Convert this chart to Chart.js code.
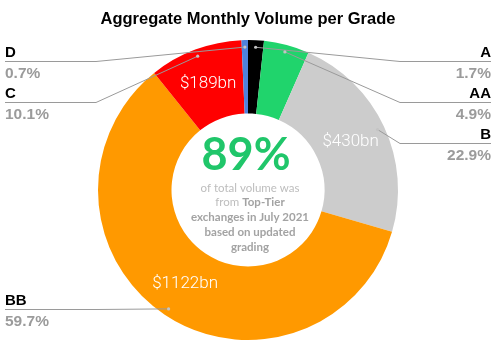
<!DOCTYPE html>
<html>
<head>
<meta charset="utf-8">
<style>
  html, body { margin: 0; padding: 0; background: #ffffff; }
  #wrap { position: relative; width: 500px; height: 351px; }
</style>
<script src="https://cdn.jsdelivr.net/npm/chart.js@4.4.1/dist/chart.umd.min.js"></script>
</head>
<body>
<div id="wrap"><canvas id="c" width="500" height="351"></canvas></div>
<script>
// ---- data ----
const grades = ['A', 'AA', 'B', 'BB', 'C', 'D'];
const volumesBn = [32, 92, 430, 1122, 189, 13];
const shareLabels = ['1.7%', '4.9%', '22.9%', '59.7%', '10.1%', '0.7%'];
const valueLabels = ['', '', '$430bn', '$1122bn', '$189bn', ''];
const labelSides = ['right', 'right', 'right', 'left', 'left', 'left'];
const centerHeadline = '89%';
const centerLines = [
  [['of total volume was', false]],
  [['from ', false], ['Top-Tier', true]],
  [['exchanges in July 2021', true]],
  [['based on updated', true]],
  [['grading', true]]
];
const titleText = 'Aggregate Monthly Volume per Grade';

// ---- styles ----
const sliceColors = ['#000000', '#20d46c', '#cccccc', '#ff9900', '#ff0000', '#4f82dc'];

const labelPlugin = {
  id: 'sideLabels',
  afterDatasetsDraw(chart) {
    const ctx = chart.ctx;
    const meta = chart.getDatasetMeta(0);
    const pts = meta.data.map((arc, i) => {
      const mid = (arc.startAngle + arc.endAngle) / 2;
      const r = arc.outerRadius * 0.953;
      return { i, x: arc.x + Math.cos(mid) * r, y: arc.y + Math.sin(mid) * r, arc };
    });
    // value labels inside slices
    ctx.save();
    ctx.fillStyle = '#ffffff';
    ctx.font = '300 17px Roboto';
    ctx.textAlign = 'center';
    ctx.textBaseline = 'middle';
    meta.data.forEach((arc, i) => {
      if (!valueLabels[i]) return;
      const p = arc.tooltipPosition();
      ctx.fillText(valueLabels[i], p.x, p.y);
    });
    ctx.restore();

    // side labels with leader lines
    const minY = 60.5, gap = 40.5;
    ['left', 'right'].forEach(side => {
      const list = pts.filter(p => labelSides[p.i] === side).sort((a, b) => a.y - b.y);
      let prev = -Infinity;
      list.forEach(p => {
        const ly = Math.round(Math.max(p.y, minY, prev + gap)) + 0.5;
        prev = ly;
        const elbowX = side === 'right' ? 400 : 96;
        const endX = side === 'right' ? 491 : 5;
        ctx.save();
        ctx.strokeStyle = '#9a9a9a';
        ctx.lineWidth = 1;
        ctx.beginPath();
        ctx.moveTo(p.x, p.y);
        ctx.lineTo(elbowX, ly);
        ctx.lineTo(endX, ly);
        ctx.stroke();
        ctx.fillStyle = '#c4c4c4';
        ctx.beginPath();
        ctx.arc(p.x, p.y, 1.6, 0, Math.PI * 2);
        ctx.fill();
        ctx.textAlign = side === 'right' ? 'right' : 'left';
        ctx.textBaseline = 'alphabetic';
        ctx.fillStyle = '#000000';
        ctx.font = 'bold 15px "Liberation Sans", Arial, sans-serif';
        ctx.fillText(grades[p.i], endX, ly - 4.5);
        ctx.fillStyle = '#9b9b9b';
        ctx.font = 'bold 15.5px "Liberation Sans", Arial, sans-serif';
        ctx.fillText(shareLabels[p.i], endX, ly + 16);
        ctx.restore();
      });
    });

    // center text
    const cx = meta.data[0].x, cy = meta.data[0].y;
    ctx.save();
    ctx.textAlign = 'center';
    ctx.textBaseline = 'alphabetic';
    ctx.fillStyle = '#20c66a';
    ctx.font = 'bold 45px Lato';
    ctx.fillText(centerHeadline, cx - 2, cy - 20);
    const baseY = cy + 1.5;
    centerLines.forEach((line, li) => {
      const y = baseY + li * 14.8;
      const fonts = line.map(([t, b]) => (b ? 'bold ' : '') + '11.5px Lato');
      let w = 0;
      const widths = line.map(([t], k) => { ctx.font = fonts[k]; const m = ctx.measureText(t).width; w += m; return m; });
      let x = cx + 2 - w / 2;
      ctx.textAlign = 'left';
      line.forEach(([t, b], k) => {
        ctx.font = fonts[k];
        ctx.fillStyle = b ? '#a3a3a3' : '#bdbdbd';
        ctx.fillText(t, x, y);
        x += widths[k];
      });
    });
    ctx.restore();
  }
};

new Chart(document.getElementById('c'), {
  type: 'doughnut',
  data: {
    labels: grades,
    datasets: [{
      data: volumesBn,
      backgroundColor: sliceColors,
      borderWidth: 0,
      hoverOffset: 0,
      offset: 0
    }]
  },
  options: {
    responsive: false,
    animation: false,
    events: [],
    cutout: '51%',
    rotation: 0,
    layout: { padding: { left: 98, right: 102, top: 0, bottom: 11 } },
    plugins: {
      legend: { display: false },
      tooltip: { enabled: false },
      title: {
        display: true,
        text: titleText,
        color: '#000000',
        font: { family: '"Liberation Sans", Arial, sans-serif', size: 16.5, weight: 'bold', lineHeight: 1.2 },
        padding: { top: 9.5, bottom: 10.7 }
      }
    }
  },
  plugins: [labelPlugin]
});
</script>
</body>
</html>
